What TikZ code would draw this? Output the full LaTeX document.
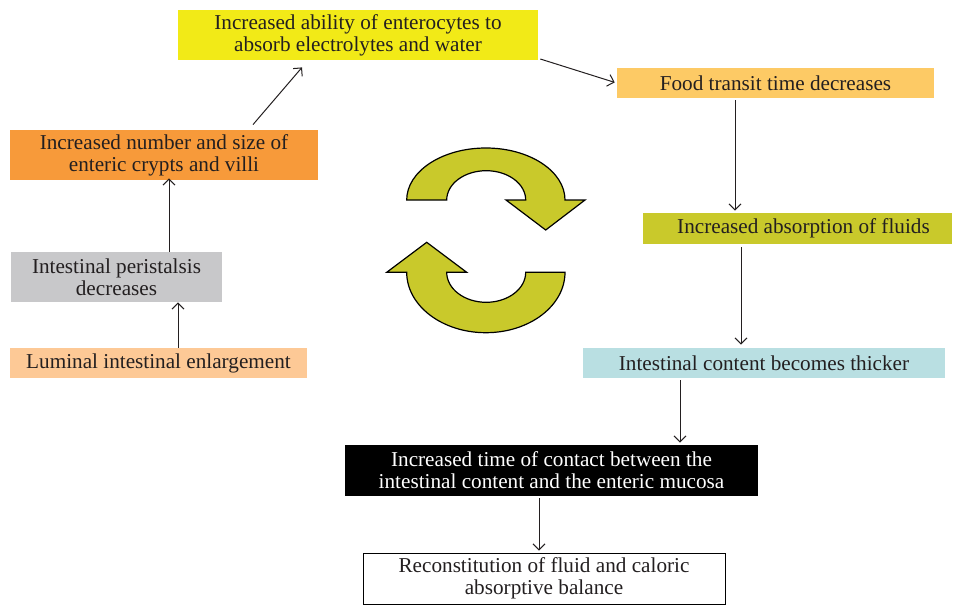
\documentclass[tikz,border=0pt]{standalone}
\usepackage{fontspec}
\setmainfont{Liberation Serif}
\usetikzlibrary{arrows.meta}

\definecolor{txtgray}{HTML}{231F20}
\definecolor{ylw}{HTML}{F2EA17}
\definecolor{foodorange}{HTML}{FDCA65}
\definecolor{olive}{HTML}{C9C92B}
\definecolor{paleblue}{HTML}{B9DFE2}
\definecolor{cryptorange}{HTML}{F79A3A}
\definecolor{lightgray}{HTML}{C8C8CA}
\definecolor{peach}{HTML}{FDC996}

\tikzset{
  box/.style={fill=#1, inner sep=0pt, align=center, text=txtgray,
    font=\fontsize{10.6}{11}\selectfont},
  arr/.style={draw=txtgray, line width=0.5pt,
    -{Straight Barb[length=3pt,width=6pt]}},
  cyc/.style={fill=olive, draw=black, line width=0.6pt}
}

\begin{document}
\begin{tikzpicture}[x=0.5pt,y=-0.5pt]
\useasboundingbox (0,0) rectangle (953,605);

% left column
\node[box=peach, minimum width=148.5pt, minimum height=15pt] (lum) at (158.5,363)
  {Luminal intestinal enlargement};
\node[box=lightgray, minimum width=105.5pt, minimum height=25pt] (peri) at (116.5,277)
  {Intestinal peristalsis\\decreases};
\node[box=cryptorange, minimum width=154pt, minimum height=25pt] (crypt) at (164,155)
  {Increased number and size of\\enteric crypts and villi};

% top
\node[box=ylw, minimum width=180pt, minimum height=25pt] (entero) at (358,35)
  {Increased ability of enterocytes to\\absorb electrolytes and water};

% right column
\node[box=foodorange, minimum width=158.5pt, minimum height=15pt] (food) at (775.5,83)
  {Food transit time decreases};
\node[box=olive, minimum width=154.5pt, minimum height=15.5pt] (absorb) at (797.5,228.5)
  {\hspace*{6pt}Increased absorption of fluids};
\node[box=paleblue, minimum width=181pt, minimum height=15pt] (thick) at (764,363)
  {Intestinal content becomes thicker};

% bottom
\node[box=black, text=white, minimum width=206.5pt, minimum height=25.5pt] (contact) at (551.5,470.5)
  {Increased time of contact between the\\intestinal content and the enteric mucosa};
\node[box=white, draw=black, line width=0.5pt, minimum width=181pt, minimum height=25.5pt] (recon) at (544,578.5)
  {Reconstitution of fluid and caloric\\absorptive balance};

% connectors
\draw[arr] (lum.north -| 178,0) -- (peri.south -| 178,0);
\draw[arr] (peri.north -| 169,0) -- ([yshift=1pt]crypt.south -| 169,0);
\draw[arr] ([xshift=44.5pt,yshift=2.5pt]crypt.north) -- ([xshift=-28pt,yshift=-3.5pt]entero.south);
\draw[arr, shorten <=1pt, shorten >=1pt] ([yshift=1pt]entero.south east) -- (food.west);
\draw[arr] ([yshift=-1pt]food.south -| 735,0) -- ([yshift=1pt]absorb.north -| 735,0);
\draw[arr] ([yshift=-1.5pt]absorb.south -| 741,0) -- ([yshift=1.5pt]thick.north -| 741,0);
\draw[arr] ([yshift=-1pt]thick.south -| 680,0) -- ([yshift=1pt]contact.north -| 680,0);
\draw[arr] ([yshift=-1pt]contact.south -| 539,0) -- ([yshift=1pt]recon.north -| 539,0);

% cycle arrows
\filldraw[cyc] (406.7,200) arc[start angle=180, end angle=360, x radius=79.15, y radius=52]
  -- (585,200) -- (545.7,230) -- (506,200) -- (525.7,200)
  arc[start angle=0, end angle=-180, x radius=39.5, y radius=29.3] -- cycle;
\filldraw[cyc] (386.7,272.3) -- (426.7,242.3) -- (466.7,272.3) -- (446.7,272.3)
  arc[start angle=180, end angle=0, x radius=39.5, y radius=30] -- (565,272.3)
  arc[start angle=0, end angle=180, x radius=79.15, y radius=60.4] -- cycle;
\end{tikzpicture}
\end{document}
